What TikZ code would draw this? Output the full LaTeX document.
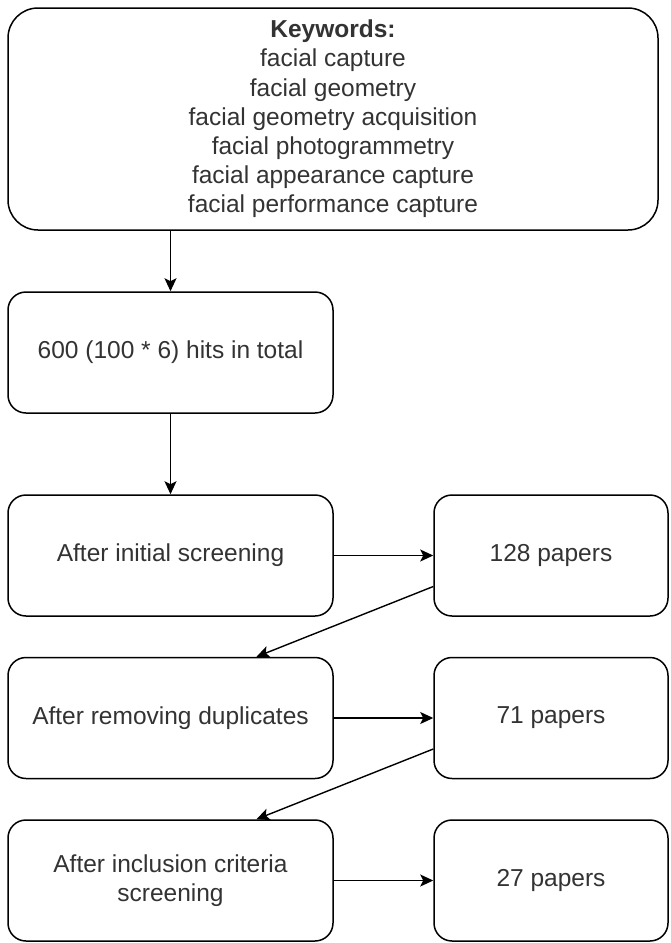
\documentclass[tikz,border=0pt]{standalone}
\usepackage{fontspec}
\setmainfont{Liberation Sans}
\usetikzlibrary{arrows.meta}
\begin{document}
\begin{tikzpicture}[x=1pt,y=-1pt,
  box/.style={draw=black,line width=1.5pt,rounded corners=18pt,fill=white,inner sep=0pt,
     font=\fontsize{24.5}{29.2}\selectfont,text=black!80,align=center},
  conn/.style={line width=1.4pt,draw=black,-{Stealth[length=13pt,width=12pt,inset=3pt]}}]
\useasboundingbox (0,0) rectangle (671,943);
\node[box,rounded corners=30pt,minimum width=650pt,minimum height=222pt] (kw) at (333,119) {\textbf{Keywords:}\\facial capture\\facial geometry\\facial geometry acquisition\\facial photogrammetry\\facial appearance capture\\facial performance capture};
\node[box,minimum width=325pt,minimum height=121pt] (hits) at (170.5,352.5) {600 (100 * 6) hits in total};
\node[box,minimum width=325pt,minimum height=121pt] (init) at (170.5,555.5) {After initial screening};
\node[box,minimum width=234pt,minimum height=121pt] (p128) at (551,555.5) {128 papers};
\node[box,minimum width=325pt,minimum height=121pt] (dup) at (170.5,718) {After removing duplicates};
\node[box,minimum width=234pt,minimum height=121pt] (p71) at (551,718) {71 papers};
\node[box,minimum width=325pt,minimum height=121pt] (incl) at (170.5,880.5) {After inclusion criteria\\screening};
\node[box,minimum width=234pt,minimum height=121pt] (p27) at (551,880.5) {27 papers};
\draw[conn] (kw.south -| hits.north) -- (hits.north);
\draw[conn] (hits) -- (init);
\draw[conn] (init) -- (p128);
\draw[conn] (dup) -- (p71);
\draw[conn] (incl) -- (p27);
\draw[conn] (p128.west) ++(0,31) coordinate (a1) (a1) -- ([xshift=86pt]dup.north);
\draw[conn] (p71.west) ++(0,31) coordinate (a2) (a2) -- ([xshift=86pt]incl.north);
\end{tikzpicture}
\end{document}
